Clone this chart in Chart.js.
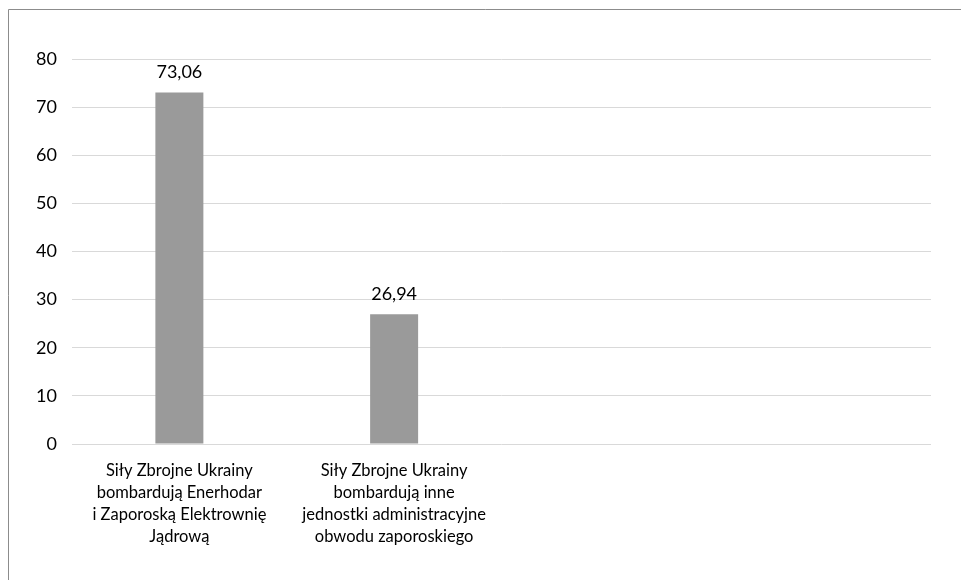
<!DOCTYPE html>
<html>
<head>
<meta charset="utf-8">
<script src="https://cdn.jsdelivr.net/npm/chart.js@4"></script>
<style>
html,body{margin:0;padding:0;background:#fff;}
#wrap{position:relative;width:961px;height:580px;}
</style>
</head>
<body>
<div id="wrap"><canvas id="c" width="961" height="580"></canvas></div>
<script>
const categories = [
  ["Siły Zbrojne Ukrainy", "bombardują Enerhodar", "i Zaporoską Elektrownię", "Jądrową"],
  ["Siły Zbrojne Ukrainy", "bombardują inne", "jednostki administracyjne", "obwodu zaporoskiego"],
  "",
  ""
];
const values = [73.06, 26.94, null, null];
const yTicks = [0, 10, 20, 30, 40, 50, 60, 70, 80];

const FONT = "Lato, 'Open Sans', sans-serif";

const frame = {
  id: 'frame',
  beforeDraw(chart) {
    const ctx = chart.ctx;
    ctx.save();
    ctx.fillStyle = '#fff';
    ctx.fillRect(0, 0, chart.width, chart.height);
    ctx.strokeStyle = '#8c8c8c';
    ctx.lineWidth = 1;
    ctx.beginPath();
    ctx.moveTo(8.5, 600);
    ctx.lineTo(8.5, 9.5);
    ctx.lineTo(970, 9.5);
    ctx.stroke();
    ctx.restore();
  }
};

const valueLabels = {
  id: 'valueLabels',
  afterDatasetsDraw(chart) {
    const ctx = chart.ctx;
    const meta = chart.getDatasetMeta(0);
    ctx.save();
    ctx.font = "18px " + FONT;
    ctx.fillStyle = '#000';
    ctx.textAlign = 'center';
    ctx.textBaseline = 'alphabetic';
    meta.data.forEach((bar, i) => {
      const v = values[i];
      if (v === null || v === undefined) return;
      ctx.fillText(v.toFixed(2).replace('.', ','), bar.x, bar.y - 14);
    });
    ctx.restore();
  }
};

new Chart(document.getElementById('c'), {
  type: 'bar',
  data: {
    labels: categories,
    datasets: [{
      data: values,
      backgroundColor: '#9a9a9a',
      borderWidth: 0,
      categoryPercentage: 1,
      barPercentage: 0.2235
    }]
  },
  options: {
    responsive: false,
    animation: false,
    events: [],
    layout: { padding: { left: 0, right: 30, top: 59, bottom: 0 } },
    plugins: { legend: { display: false }, tooltip: { enabled: false } },
    scales: {
      x: {
        grid: { display: false, drawTicks: false },
        border: { display: false },
        ticks: {
          color: '#000',
          font: { family: FONT, size: 16.5, lineHeight: 1.32 },
          padding: 16,
          maxRotation: 0,
          autoSkip: false
        },
        afterFit(scale) { scale.height = 136; }
      },
      y: {
        min: 0,
        max: 80,
        afterBuildTicks(scale) { scale.ticks = yTicks.map(v => ({ value: v })); },
        grid: { color: '#d9d9d9', lineWidth: 1, drawTicks: false },
        border: { display: false },
        ticks: {
          color: '#000',
          font: { family: FONT, size: 18 },
          padding: 15
        },
        afterFit(scale) { scale.width = 72; }
      }
    }
  },
  plugins: [frame, valueLabels]
});
</script>
</body>
</html>
